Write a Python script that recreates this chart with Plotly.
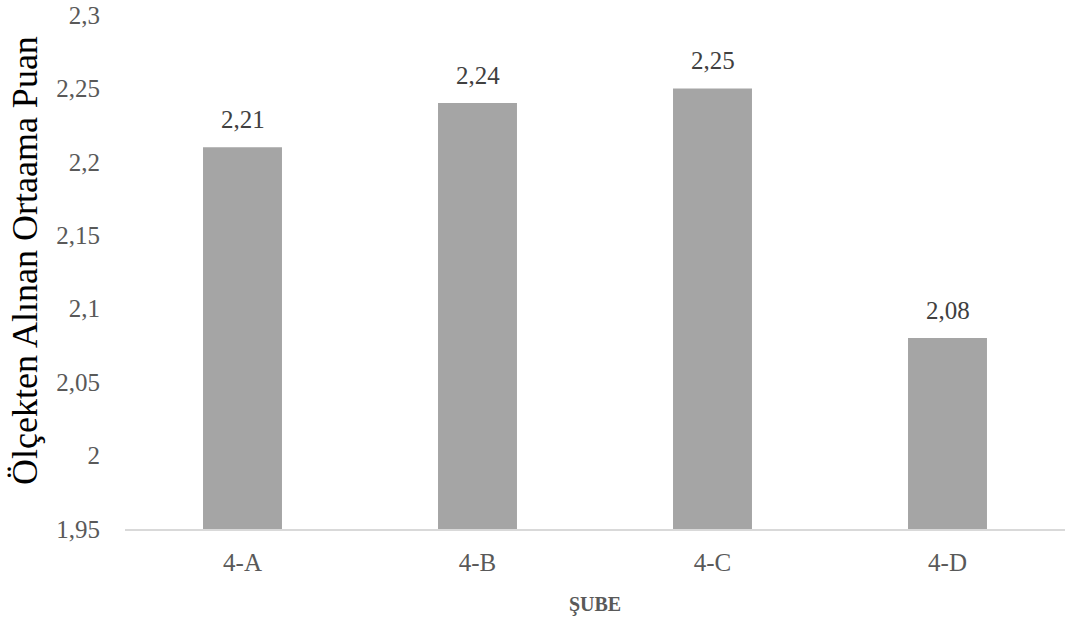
import plotly.graph_objects as go

categories = ["4-A", "4-B", "4-C", "4-D"]
values = [2.21, 2.24, 2.25, 2.08]
tick_vals = [1.95, 2.0, 2.05, 2.1, 2.15, 2.2, 2.25, 2.3]
tick_text = ["1,95", "2", "2,05", "2,1", "2,15", "2,2", "2,25", "2,3"]
value_labels = [f"{v:.2f}".replace(".", ",") for v in values]

FONT = "Liberation Serif"

fig = go.Figure(go.Bar(
    x=categories, y=values,
    marker=dict(color="#A5A5A5", line=dict(width=0)),
    cliponaxis=False,
))

for c, v, t in zip(categories, values, value_labels):
    fig.add_annotation(
        x=c, y=v, text=t, showarrow=False, yanchor="bottom", yshift=12,
        font=dict(family=FONT, size=25, color="#404040"),
    )

# Y axis title as a rotated annotation
fig.add_annotation(
    xref="paper", yref="paper", x=0, y=0.5, xanchor="center", yanchor="middle",
    xshift=-100, yshift=11, textangle=-90, showarrow=False,
    text="Ölçekten Alınan Ortaama Puan",
    font=dict(family=FONT, size=36, color="#000000"),
)

fig.update_layout(
    width=1072, height=619,
    margin=dict(l=125, r=7, t=15, b=90, autoexpand=False),
    paper_bgcolor="white", plot_bgcolor="white",
    bargap=0.664, showlegend=False,
    font=dict(family=FONT),
    xaxis=dict(
        showline=True, linecolor="#D9D9D9", linewidth=2,
        showgrid=False, ticks="", ticklabelstandoff=10, automargin=False,
        tickfont=dict(family=FONT, size=25, color="#595959"),
        title=dict(text="<b>ŞUBE</b>", font=dict(family=FONT, size=20, color="#595959"), standoff=22),
    ),
    yaxis=dict(
        range=[1.95, 2.3], tickvals=tick_vals, ticktext=tick_text,
        showgrid=False, zeroline=False, showline=False, ticks="",
        ticklabelstandoff=24, automargin=False, ticklabeloverflow="allow",
        tickfont=dict(family=FONT, size=25, color="#595959"),
    ),
)

fig.write_html("out.html", config={"displayModeBar": False},
               post_script="document.body.style.margin='0';")
